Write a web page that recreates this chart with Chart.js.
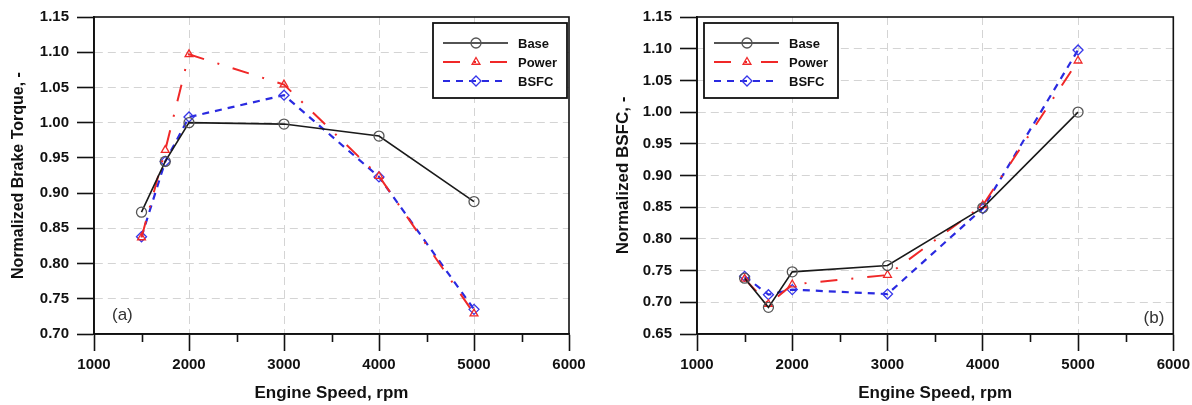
<!DOCTYPE html>
<html lang="en">
<head>
  <meta charset="UTF-8" />
  <title>Normalized Brake Torque and BSFC vs Engine Speed</title>
  <style>
    body {
      margin: 0;
      background: #fff;
      overflow: hidden;
    }
    .panel {
      position: absolute;
      top: 0;
      height: 405px;
    }
    #leftPanel { left: 0; width: 596px; }
    #rightPanel { left: 596px; width: 599px; }
  </style>
  <script src="https://cdn.jsdelivr.net/npm/chart.js"></script>
</head>
<body>
  <div class="panel" id="leftPanel"><canvas id="torqueChart" width="596" height="405"></canvas></div>
  <div class="panel" id="rightPanel"><canvas id="bsfcChart" width="599" height="405"></canvas></div>
  <script>
    // Data
    const speeds = [1500, 1750, 2000, 3000, 4000, 5000];
    const seriesNames = ['Base', 'Power', 'BSFC'];

    // (a) normalized brake torque
    const torqueBase  = [0.873, 0.945, 1.000, 0.998, 0.981, 0.888];
    const torquePower = [0.837, 0.961, 1.097, 1.054, 0.924, 0.729];
    const torqueBsfc  = [0.838, 0.945, 1.008, 1.039, 0.923, 0.735];

    // (b) normalized BSFC
    const bsfcBase  = [0.738, 0.692, 0.748, 0.758, 0.849, 1.000];
    const bsfcPower = [0.737, 0.697, 0.728, 0.743, 0.853, 1.081];
    const bsfcBsfc  = [0.741, 0.712, 0.720, 0.713, 0.848, 1.098];

    const minorSpeedTicks = [1500, 2500, 3500, 4500, 5500];

    const FONT = "'Liberation Sans', Arial, sans-serif";
    Chart.defaults.font.family = FONT;
    Chart.defaults.color = '#111';

    const seriesStyles = [
      { line: '#1a1a1a', point: '#555', width: 1.6, dash: [], shape: 'circle', radius: 5 },
      { line: '#f02828', point: '#f02828', width: 2, dash: [17, 14, 2, 14], shape: 'triangle', radius: 4.5 },
      { line: '#2a2ae0', point: '#3636ea', width: 2.2, dash: [7, 6], shape: 'rectRot', radius: 5 }
    ];

    function makeDatasets(valueLists) {
      return valueLists.map((vals, i) => {
        const s = seriesStyles[i];
        return {
          label: seriesNames[i],
          data: speeds.map((sp, k) => ({ x: sp, y: vals[k] })),
          borderColor: s.line,
          borderWidth: s.width,
          borderDash: s.dash,
          pointStyle: s.shape,
          pointRadius: s.radius,
          pointBorderColor: s.point,
          pointBackgroundColor: 'rgba(0,0,0,0)',
          pointBorderWidth: 1.3,
          fill: false,
          tension: 0
        };
      });
    }

    // Draw a marker the same way for the legend
    function drawMarker(ctx, shape, x, y, r) {
      ctx.beginPath();
      if (shape === 'circle') {
        ctx.arc(x, y, r, 0, Math.PI * 2);
      } else if (shape === 'triangle') {
        ctx.moveTo(x, y - r);
        ctx.lineTo(x + r * 0.87, y + r * 0.5);
        ctx.lineTo(x - r * 0.87, y + r * 0.5);
        ctx.closePath();
      } else {
        ctx.moveTo(x, y - r);
        ctx.lineTo(x + r, y);
        ctx.lineTo(x, y + r);
        ctx.lineTo(x - r, y);
        ctx.closePath();
      }
      ctx.stroke();
    }

    // Frame, minor ticks, boxed legend and panel tag
    const panelDecor = {
      id: 'panelDecor',
      afterDraw(chart, args, opts) {
        const ctx = chart.ctx;
        const area = chart.chartArea;
        const xScale = chart.scales.x;
        ctx.save();

        // full black frame
        ctx.strokeStyle = '#111';
        ctx.lineWidth = 1.6;
        ctx.setLineDash([]);
        ctx.strokeRect(area.left, area.top, area.right - area.left, area.bottom - area.top);

        // minor ticks on x axis
        minorSpeedTicks.forEach(v => {
          const px = Math.round(xScale.getPixelForValue(v)) + 0.5;
          ctx.beginPath();
          ctx.moveTo(px, area.bottom);
          ctx.lineTo(px, area.bottom + 8);
          ctx.stroke();
        });

        // legend box
        const boxW = 134, boxH = 75;
        const boxX = opts.legendSide === 'right' ? area.right - 2 - boxW : area.left + 7;
        const boxY = area.top + 6;
        ctx.fillStyle = '#fff';
        ctx.fillRect(boxX, boxY, boxW, boxH);
        ctx.lineWidth = 1.8;
        ctx.strokeStyle = '#111';
        ctx.strokeRect(boxX, boxY, boxW, boxH);

        chart.data.datasets.forEach((ds, i) => {
          const s = seriesStyles[i];
          const y = boxY + 20 + i * 19;
          ctx.strokeStyle = s.line;
          ctx.lineWidth = s.width;
          ctx.setLineDash(s.dash);
          ctx.beginPath();
          ctx.moveTo(boxX + 10, y);
          ctx.lineTo(boxX + 75, y);
          ctx.stroke();
          ctx.setLineDash([]);
          ctx.strokeStyle = s.point;
          ctx.lineWidth = 1.3;
          drawMarker(ctx, s.shape, boxX + 43, y, s.radius);
          ctx.fillStyle = '#111';
          ctx.font = 'bold 13px ' + FONT;
          ctx.textAlign = 'left';
          ctx.textBaseline = 'middle';
          ctx.fillText(ds.label, boxX + 85, y + 1);
        });

        // panel tag
        ctx.font = '17px ' + FONT;
        ctx.fillStyle = '#333';
        ctx.textBaseline = 'middle';
        if (opts.tagSide === 'left') {
          ctx.textAlign = 'left';
          ctx.fillText(opts.tag, area.left + 18, area.bottom - 19);
        } else {
          ctx.textAlign = 'right';
          ctx.fillText(opts.tag, area.right - 9, area.bottom - 16);
        }
        ctx.restore();
      }
    };

    function innerGrid(ctx) {
      const n = ctx.scale.ticks.length;
      return (ctx.index > 0 && ctx.index < n - 1) ? '#d4d4d4' : 'rgba(0,0,0,0)';
    }

    function makeChart(canvasId, valueLists, cfg) {
      return new Chart(document.getElementById(canvasId), {
        type: 'line',
        data: { datasets: makeDatasets(valueLists) },
        options: {
          responsive: false,
          animation: false,
          layout: { padding: { left: 0, right: cfg.padRight, top: 17, bottom: 0 } },
          plugins: {
            legend: { display: false },
            tooltip: { enabled: false },
            panelDecor: { tag: cfg.tag, tagSide: cfg.tagSide, legendSide: cfg.legendSide }
          },
          scales: {
            x: {
              type: 'linear',
              min: 1000,
              max: 6000,
              ticks: {
                stepSize: 1000,
                padding: 5,
                maxRotation: 0,
                color: '#111',
                font: { size: 15, weight: 'bold' },
                callback: v => String(v)
              },
              grid: {
                color: innerGrid,
                lineWidth: 1,
                tickColor: '#111',
                tickLength: 17,
                tickWidth: 1.6
              },
              border: { display: true, color: '#111', width: 1.8, dash: [8, 5] },
              title: {
                display: true,
                text: 'Engine Speed, rpm',
                color: '#111',
                font: { size: 17, weight: 'bold' },
                padding: { top: 0, bottom: 1 }
              },
              afterFit: s => { s.height = 71; }
            },
            y: {
              type: 'linear',
              min: cfg.yMin,
              max: 1.15,
              ticks: {
                stepSize: 0.05,
                padding: 8,
                color: '#111',
                font: { size: 15, weight: 'bold' },
                callback: v => Number(v).toFixed(2)
              },
              grid: {
                color: innerGrid,
                lineWidth: 1,
                tickColor: '#111',
                tickLength: 17,
                tickWidth: 1.6
              },
              border: { display: true, color: '#111', width: 1.8, dash: [8, 5] },
              title: {
                display: true,
                text: cfg.yTitle,
                color: '#111',
                font: { size: cfg.yTitleSize, weight: 'bold' },
                padding: { top: cfg.yTitlePad, bottom: 0 }
              },
              afterFit: s => { s.width = cfg.yWidth; }
            }
          }
        },
        plugins: [panelDecor]
      });
    }

    makeChart('torqueChart', [torqueBase, torquePower, torqueBsfc], {
      yMin: 0.70,
      yTitle: 'Normalized Brake Torque, -',
      yTitleSize: 16,
      yTitlePad: 9,
      yWidth: 94,
      padRight: 27,
      tag: '(a)',
      tagSide: 'left',
      legendSide: 'right'
    });

    makeChart('bsfcChart', [bsfcBase, bsfcPower, bsfcBsfc], {
      yMin: 0.65,
      yTitle: 'Normalized BSFC, -',
      yTitleSize: 17,
      yTitlePad: 17,
      yWidth: 101,
      padRight: 19,
      tag: '(b)',
      tagSide: 'right',
      legendSide: 'left'
    });
  </script>
</body>
</html>
